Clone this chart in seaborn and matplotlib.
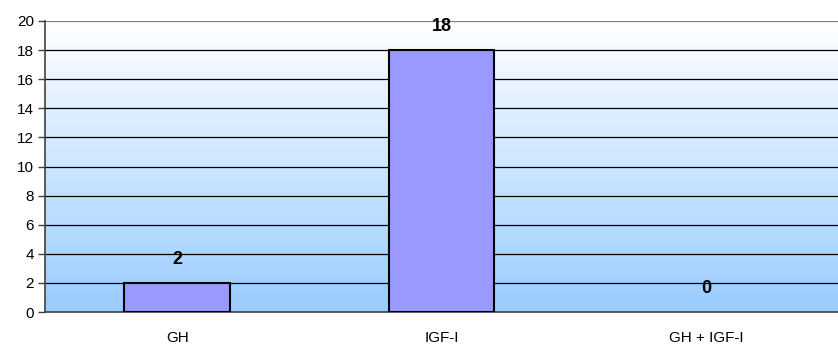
import numpy as np
import pandas as pd
import matplotlib
matplotlib.use("Agg")
import matplotlib.pyplot as plt
import seaborn as sns

# dados
categorias = ["GH", "IGF-I", "GH + IGF-I"]
valores = [2, 18, 0]
y_ticks = list(range(0, 21, 2))

df = pd.DataFrame({"grupo": categorias, "n": valores})

sns.set_style("white")
plt.rcParams["font.family"] = ["Liberation Sans", "DejaVu Sans"]
plt.rcParams["text.color"] = "black"
plt.rcParams["xtick.color"] = "black"
plt.rcParams["ytick.color"] = "black"

fig = plt.figure(figsize=(8.38, 3.53), dpi=100)
ax = fig.add_axes([45 / 838, 1 - 312 / 353, 1 - 45 / 838, (312 - 21) / 353])

# fundo em degradê (branco -> azul claro)
grad = np.linspace(0, 1, 256).reshape(-1, 1)
top = np.array([1.0, 1.0, 1.0])
bot = np.array([153, 204, 255]) / 255
img = top + (bot - top) * grad[:, :, None] * np.ones((1, 1, 3))
ax.imshow(img, extent=[0, 1, 0, 1], transform=ax.transAxes, aspect="auto", zorder=0)

sns.barplot(data=df, x="grupo", y="n", color="#9999FF", saturation=1,
            edgecolor="black", linewidth=1.5, width=0.4, ax=ax, zorder=3)

# barra de altura zero não mostra contorno
for p, v in zip(ax.patches, valores):
    if v == 0:
        p.set_linewidth(0)

ax.set_xlim(-0.5, 2.5)
ax.set_ylim(0, 20)
ax.set_yticks(y_ticks)
ax.set_yticklabels([str(t) for t in y_ticks], fontsize=11)
ax.set_xlabel("")
ax.set_ylabel("")

# linhas de grade
for t in y_ticks[1:]:
    ax.axhline(t, color="#808080" if t == 20 else "black", linewidth=0.9, zorder=1)

# ticks do eixo x entre as categorias
ax.set_xticks([0, 1, 2])
ax.set_xticklabels(categorias, fontsize=11)
ax.tick_params(axis="x", length=0, pad=14)
ax.set_xticks([-0.5, 0.5, 1.5, 2.5], minor=True)
ax.tick_params(axis="x", which="minor", length=5, color="#404040", width=1)
ax.tick_params(axis="y", length=5, color="#404040", width=1, left=True, pad=3)

for s in ["top", "right"]:
    ax.spines[s].set_visible(False)
ax.spines["left"].set_color("#404040")
ax.spines["bottom"].set_color("#404040")
ax.spines["left"].set_linewidth(1.2)
ax.spines["bottom"].set_linewidth(1.2)

# rótulos dos valores
for i, v in enumerate(valores):
    ax.text(i, v + 1.6, str(v), ha="center", va="center", fontsize=13,
            fontweight="bold", color="black", zorder=5)

fig.savefig("out.png", dpi=100)
